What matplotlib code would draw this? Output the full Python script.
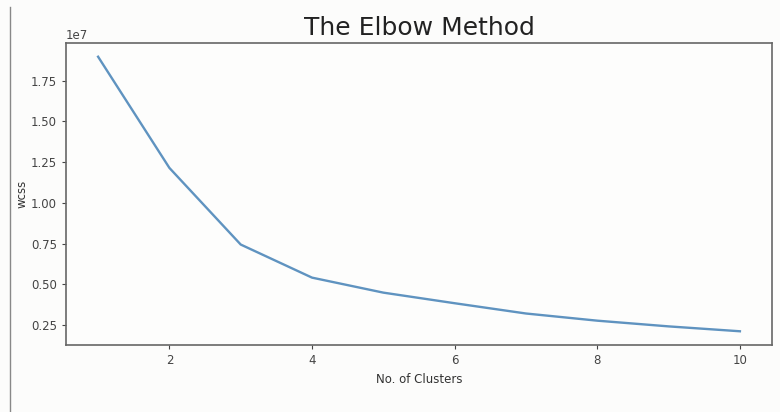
import matplotlib.pyplot as plt
from matplotlib.lines import Line2D

clusters = [1, 2, 3, 4, 5, 6, 7, 8, 9, 10]
wcss = [1.897e7, 1.215e7, 0.745e7, 0.542e7, 0.450e7, 0.385e7, 0.322e7, 0.278e7, 0.243e7, 0.213e7]

fig = plt.figure(figsize=(7.8, 4.12), dpi=100, facecolor='#fcfcfb')
ax = fig.add_axes([66 / 780, 1 - 345 / 412, (772 - 66) / 780, (345 - 43) / 412])
ax.set_facecolor('#fdfdfc')

ax.plot(clusters, wcss, color='#5f93c0', lw=1.7)
ax.set_title('The Elbow Method', fontsize=18, color='#222222', pad=6)
ax.set_xlabel('No. of Clusters', fontsize=8.5, color='#333333')
ax.set_ylabel('wcss', fontsize=8.5, color='#333333', labelpad=2)
ax.set_xticks([2, 4, 6, 8, 10])
ax.set_yticks([0.25e7, 0.5e7, 0.75e7, 1.0e7, 1.25e7, 1.5e7, 1.75e7])
ax.tick_params(labelsize=8.5, colors='#444444', length=3)
ax.yaxis.get_offset_text().set_fontsize(8.5)
ax.yaxis.get_offset_text().set_color('#444444')
for s in ax.spines.values():
    s.set_color('#666666')
    s.set_linewidth(1.2)

# screenshot border on the left
fig.add_artist(Line2D([10 / 780, 10 / 780], [0, 1 - 7 / 412], color='#888888', lw=1))

fig.savefig('out.png', dpi=100, facecolor=fig.get_facecolor())
